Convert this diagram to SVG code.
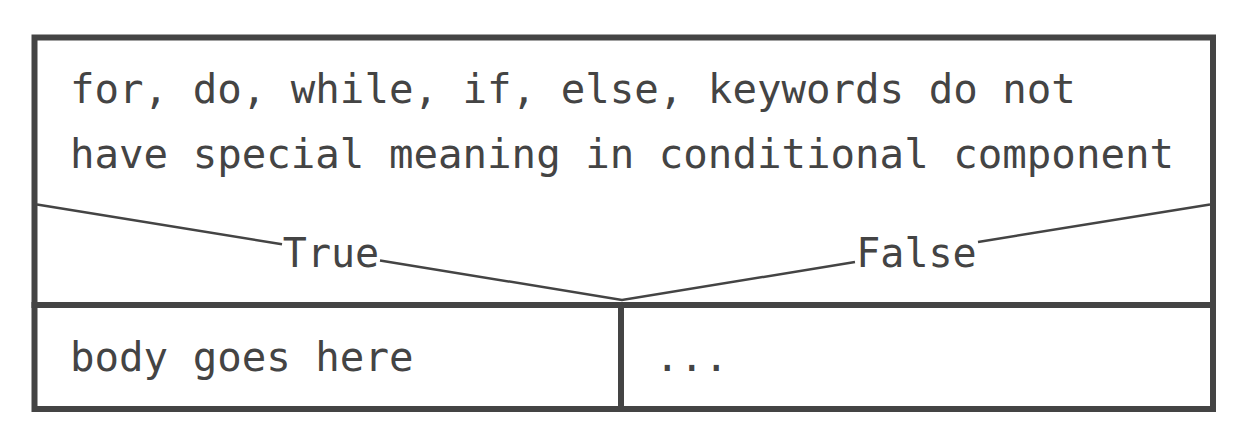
<svg xmlns="http://www.w3.org/2000/svg" width="1248" height="442" viewBox="0 0 1248 442">
<style>
.t{font-family:"DejaVu Sans Mono","Liberation Mono",monospace;font-size:40.75px;fill:#444}
.lbl{font-family:"DejaVu Sans Mono","Liberation Mono",monospace;font-size:40px;fill:#444}
.box{fill:none;stroke:#444;stroke-width:6}
.edge{fill:none;stroke:#444;stroke-width:2.5}
</style>
<rect width="1248" height="442" fill="#fff"/>
<g id="condition">
<rect class="box" x="34.5" y="37.5" width="1178.5" height="267.5"/>
<text class="t" x="70" y="103">for, do, while, if, else, keywords do not</text>
<text class="t" x="70" y="168">have special meaning in conditional component</text>
</g>
<g id="connectors">
<polyline class="edge" points="37,204.5 282,244.3"/>
<polyline class="edge" points="380,260.4 622,300 855,262"/>
<polyline class="edge" points="978,242 1210,204.5"/>
<text class="lbl" x="331" y="267" text-anchor="middle">True</text>
<text class="lbl" x="916.5" y="267" text-anchor="middle">False</text>
</g>
<g id="true-branch">
<rect class="box" x="34.5" y="305" width="586.5" height="104"/>
<text class="t" x="70" y="370.5">body goes here</text>
</g>
<g id="false-branch">
<rect class="box" x="621" y="305" width="592" height="104"/>
<text class="t" x="655" y="370.5">...</text>
</g>
</svg>
